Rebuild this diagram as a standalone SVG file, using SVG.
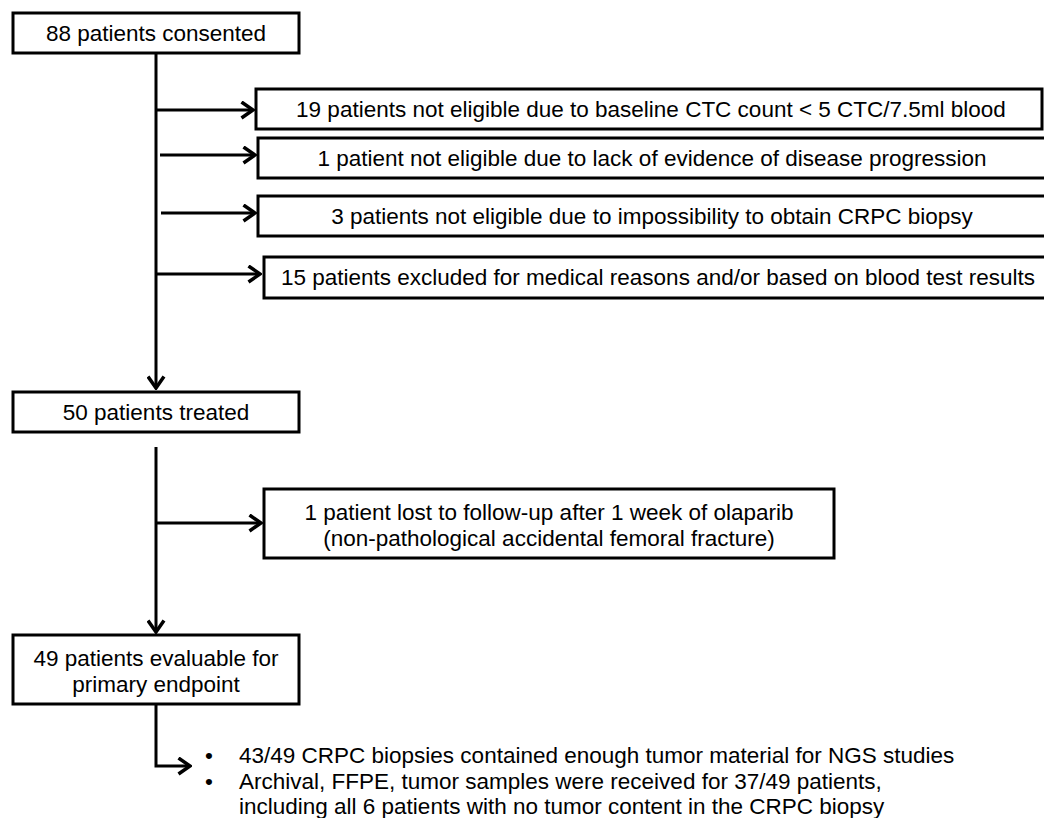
<svg xmlns="http://www.w3.org/2000/svg" width="1044" height="818" viewBox="0 0 1044 818">
<style>
.box{fill:#ffffff;stroke:#000000;stroke-width:3}
.t{font-family:"Liberation Sans",Arial,sans-serif;font-size:22.5px;fill:#000000}
.c{text-anchor:middle}
.ln{fill:none;stroke:#000000;stroke-width:3}
</style>
<defs>
<marker id="arr" viewBox="0 0 15 19" refX="13" refY="9.5" markerWidth="15" markerHeight="19" orient="auto" markerUnits="userSpaceOnUse">
<path d="M1.5,1.5 L13,9.5 L1.5,17.5" fill="none" stroke="#000000" stroke-width="3.5"/>
</marker>
</defs>
<rect width="1044" height="818" fill="#ffffff"/>
<g id="connectors">
<path class="ln" d="M156,53 V388" marker-end="url(#arr)"/>
<path class="ln" d="M156,110 H253" marker-end="url(#arr)"/>
<path class="ln" d="M160,155 H255" marker-end="url(#arr)"/>
<path class="ln" d="M161,213 H255" marker-end="url(#arr)"/>
<path class="ln" d="M156,274 H260" marker-end="url(#arr)"/>
<path class="ln" d="M156,447 V632" marker-end="url(#arr)"/>
<path class="ln" d="M156,523 H261" marker-end="url(#arr)"/>
<path class="ln" d="M156,704 V766 H190" marker-end="url(#arr)"/>
</g>
<g id="n88">
<rect class="box" x="13" y="13" width="286" height="40"/>
<text class="t c" x="156" y="41">88 patients consented</text>
</g>
<g id="n19">
<rect class="box" x="256" y="89" width="786" height="40"/>
<text class="t c" x="651" y="117">19 patients not eligible due to baseline CTC count &lt; 5 CTC/7.5ml blood</text>
</g>
<g id="n1">
<rect class="box" x="258" y="138" width="800" height="40"/>
<text class="t c" x="652" y="166">1 patient not eligible due to lack of evidence of disease progression</text>
</g>
<g id="n3">
<rect class="box" x="258" y="196" width="800" height="40"/>
<text class="t c" x="652" y="224">3 patients not eligible due to impossibility to obtain CRPC biopsy</text>
</g>
<g id="n15">
<rect class="box" x="264" y="257" width="800" height="41"/>
<text class="t c" x="658" y="285">15 patients excluded for medical reasons and/or based on blood test results</text>
</g>
<g id="n50">
<rect class="box" x="13" y="392" width="286" height="40"/>
<text class="t c" x="156" y="420">50 patients treated</text>
</g>
<g id="nlost">
<rect class="box" x="264" y="489" width="570" height="69"/>
<text class="t c" x="549" y="520">1 patient lost to follow-up after 1 week of olaparib</text>
<text class="t c" x="549" y="546">(non-pathological accidental femoral fracture)</text>
</g>
<g id="n49">
<rect class="box" x="13" y="635" width="286" height="69"/>
<text class="t c" x="156" y="666">49 patients evaluable for</text>
<text class="t c" x="156" y="692">primary endpoint</text>
</g>
<g id="notes">
<text class="t" x="205" y="763">•</text>
<text class="t" x="239" y="763">43/49 CRPC biopsies contained enough tumor material for NGS studies</text>
<text class="t" x="205" y="789">•</text>
<text class="t" x="239" y="789">Archival, FFPE, tumor samples were received for 37/49 patients,</text>
<text class="t" x="239" y="814">including all 6 patients with no tumor content in the CRPC biopsy</text>
</g>
</svg>
